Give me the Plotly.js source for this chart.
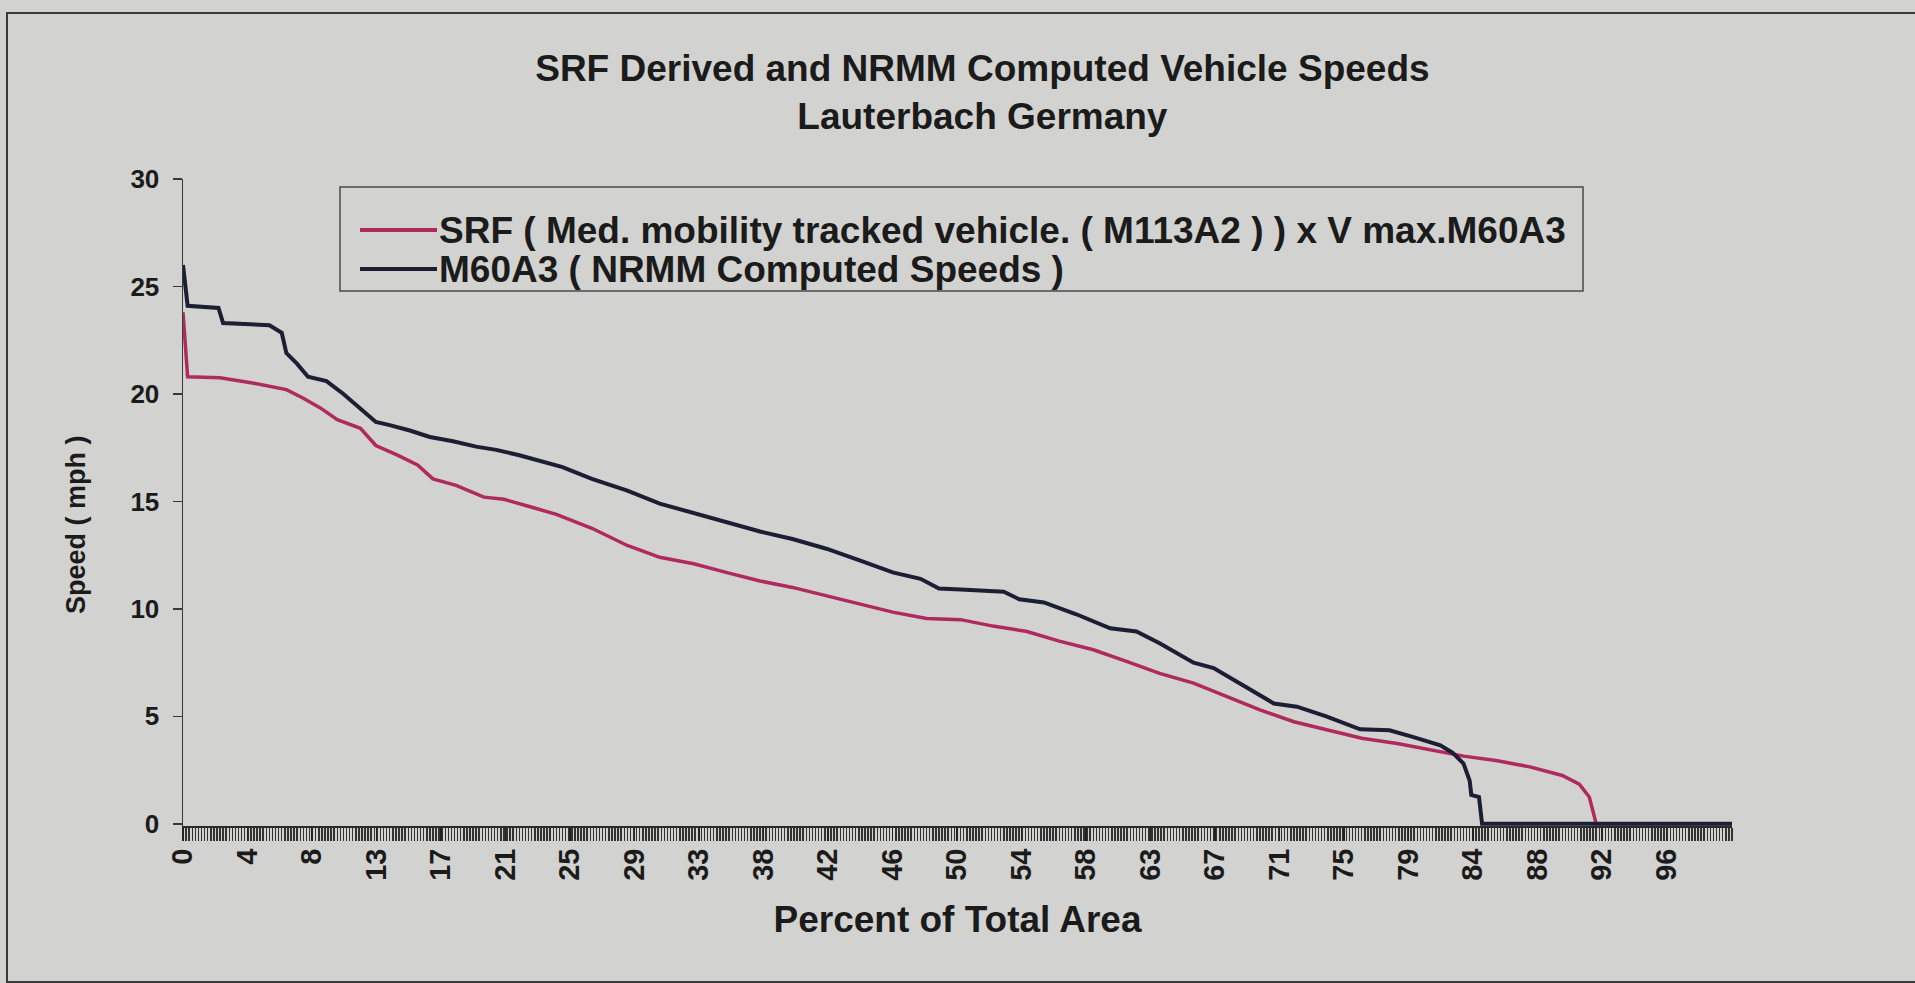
<!DOCTYPE html>
<html>
<head>
<meta charset="utf-8">
<script src="https://cdn.plot.ly/plotly-3.0.1.min.js"></script>
<style>
  html, body { margin: 0; padding: 0; background: #d2d2d0; }
  #frame { position: absolute; left: 0; top: 0; width: 1915px; height: 983px; }
  #edge { position: absolute; left: 6px; top: 12px; width: 1909px; height: 967px;
          border-left: 2px solid #3a3a3a; border-top: 2px solid #3a3a3a; border-bottom: 3px solid #3a3a3a;
          pointer-events: none; }
  #chart { position: absolute; left: 0; top: 0; width: 1915px; height: 983px; }
</style>
</head>
<body>
<div id="frame">
  <div id="chart"></div>
  <div id="edge"></div>
</div>
<script>
// ---- data ----
const srfPercent = [0, 0.3, 2.4, 4.6, 6.7, 7.8, 8.9, 10.0, 11.5, 12.5, 13.9, 15.2, 16.2, 17.7, 19.5, 20.8,
  22.5, 24.2, 26.5, 28.8, 30.9, 33.1, 35.2, 37.4, 39.5, 41.7, 43.9, 46.0, 48.2, 50.4, 52.5, 54.7,
  56.8, 59.0, 61.2, 63.3, 65.5, 67.6, 69.8, 72.0, 74.2, 76.4, 78.7, 80.8, 83.0, 85.1, 87.3, 89.4,
  90.5, 91.15, 91.6, 100.4];
const srfSpeed = [23.8, 20.8, 20.75, 20.5, 20.2, 19.8, 19.35, 18.8, 18.4, 17.6, 17.15, 16.7, 16.05, 15.75, 15.2, 15.1,
  14.75, 14.4, 13.75, 12.95, 12.4, 12.1, 11.7, 11.3, 11.0, 10.6, 10.2, 9.85, 9.55, 9.5, 9.2, 8.95,
  8.5, 8.1, 7.55, 7.0, 6.55, 5.95, 5.3, 4.75, 4.35, 3.98, 3.74, 3.45, 3.15, 2.95, 2.65, 2.25,
  1.85, 1.25, 0, 0];

const m60Percent = [0, 0.3, 2.3, 2.6, 5.6, 6.4, 6.7, 7.4, 8.1, 9.3, 10.4, 11.5, 12.5, 13.4, 14.7, 16.0,
  17.5, 19.0, 20.3, 21.8, 23.3, 24.6, 26.5, 28.8, 30.9, 33.1, 35.2, 37.4, 39.5, 41.7, 43.9, 46.0,
  47.8, 49.0, 50.4, 53.2, 54.2, 55.8, 57.9, 60.1, 61.8, 63.3, 65.5, 66.8, 68.7, 70.7, 72.2, 74.1,
  76.3, 78.2, 79.7, 81.5, 82.3, 83.0, 83.4, 83.5, 84.0, 84.2, 100.4];
const m60Speed = [26.0, 24.1, 24.0, 23.3, 23.2, 22.85, 21.9, 21.4, 20.8, 20.6, 20.0, 19.3, 18.7, 18.55, 18.3, 18.0,
  17.8, 17.55, 17.4, 17.15, 16.85, 16.6, 16.05, 15.5, 14.9, 14.45, 14.05, 13.6, 13.25, 12.8, 12.25, 11.7,
  11.4, 10.95, 10.9, 10.8, 10.45, 10.3, 9.75, 9.1, 8.95, 8.4, 7.5, 7.25, 6.45, 5.6, 5.45, 5.0,
  4.4, 4.35, 4.05, 3.65, 3.3, 2.8, 2.0, 1.35, 1.25, 0, 0];

const xTickLabels = ['0','4','8','13','17','21','25','29','33','38','42','46','50','54','58','63',
  '67','71','75','79','84','88','92','96'];
const srfName = 'SRF ( Med. mobility tracked vehicle. ( M113A2 ) ) x V max.M60A3';
const m60Name = 'M60A3 ( NRMM Computed Speeds )';
const chartTitle = 'SRF Derived and NRMM Computed Vehicle Speeds<br>Lauterbach Germany';
const xTitle = 'Percent of Total Area';
const yTitle = 'Speed ( mph )';

// ---- drawing ----
const W = 1915, H = 983;
const M = { l: 183, r: 183, t: 179, b: 157 };
const PW = W - M.l - M.r, PH = H - M.t - M.b;
const px2x = p => (p - M.l) / PW;           // page pixel -> paper x
const px2y = p => (H - M.b - p) / PH;       // page pixel -> paper y

const labelStep = 4.18;           // category spacing of the labelled ticks (percent)
const tickVals = xTickLabels.map((_, i) => i * labelStep);
const FONT = 'Liberation Sans, Arial, sans-serif';
const INK = '#1b1b1b';
const SRF_COLOR = '#b02a5e';
const M60_COLOR = '#1c1f33';

const traces = [
  { x: srfPercent, y: srfSpeed, name: srfName, type: 'scatter', mode: 'lines',
    line: { color: SRF_COLOR, width: 3.5 } },
  { x: m60Percent, y: m60Speed, name: m60Name, type: 'scatter', mode: 'lines',
    line: { color: M60_COLOR, width: 4 } }
];

// legend drawn as a framed box like the Excel original
const legendRows = [
  { name: srfName, color: SRF_COLOR, y: 230 },
  { name: m60Name, color: M60_COLOR, y: 269 }
];
const shapes = [
  { type: 'rect', xref: 'paper', yref: 'paper', x0: px2x(340), x1: px2x(1583), y0: px2y(291), y1: px2y(187),
    line: { color: '#4a4a4a', width: 1.5 }, fillcolor: 'rgba(0,0,0,0)' }
];
const annotations = [];
legendRows.forEach(r => {
  shapes.push({ type: 'line', xref: 'paper', yref: 'paper', x0: px2x(360), x1: px2x(437),
                y0: px2y(r.y), y1: px2y(r.y), line: { color: r.color, width: 4 } });
  annotations.push({ xref: 'paper', yref: 'paper', x: px2x(437), y: px2y(r.y), xanchor: 'left', yanchor: 'middle',
                     text: r.name, showarrow: false,
                     font: { family: FONT, size: 37, color: INK, weight: 'bold' } });
});
annotations.push({ xref: 'paper', yref: 'paper', x: px2x(76), y: px2y(525), xanchor: 'center', yanchor: 'middle',
                   text: yTitle, textangle: -90, showarrow: false,
                   font: { family: FONT, size: 27, color: INK, weight: 'bold' } });

const layout = {
  width: W, height: H,
  paper_bgcolor: 'rgba(0,0,0,0)', plot_bgcolor: 'rgba(0,0,0,0)',
  margin: { l: M.l, r: M.r, t: M.t, b: M.b, pad: 0 },
  font: { family: FONT, color: INK, weight: 'bold' },
  showlegend: false,
  title: { text: chartTitle, x: 0.513, xanchor: 'center', xref: 'container',
           y: 0.918, yanchor: 'top', yref: 'container',
           font: { family: FONT, size: 37, color: INK, weight: 'bold' } },
  shapes: shapes,
  annotations: annotations,
  xaxis: {
    range: [0, 100.4], showgrid: false, zeroline: false,
    showline: true, linecolor: '#2a2a2a', linewidth: 2,
    tickmode: 'array', tickvals: tickVals, ticktext: xTickLabels,
    ticks: 'outside', ticklen: 13, tickwidth: 1.5, tickcolor: '#222',
    minor: { dtick: 0.2, ticks: 'outside', ticklen: 13, tickwidth: 1.5, tickcolor: '#333', showgrid: false },
    tickangle: -90, ticklabelstandoff: -4,
    tickfont: { family: FONT, size: 29, color: INK, weight: 'bold' },
    title: { text: xTitle, standoff: 26, font: { family: FONT, size: 37, color: INK, weight: 'bold' } }
  },
  yaxis: {
    range: [-0.1, 30], showgrid: false, zeroline: false,
    showline: true, linecolor: '#3a3a3a', linewidth: 1.5,
    tickmode: 'linear', tick0: 0, dtick: 5,
    ticks: 'outside', ticklen: 9, tickwidth: 1.5, tickcolor: '#3a3a3a',
    ticklabelstandoff: 8,
    tickfont: { family: FONT, size: 26, color: INK, weight: 'bold' }
  }
};

Plotly.newPlot('chart', traces, layout, { displayModeBar: false, staticPlot: true });
</script>
</body>
</html>
